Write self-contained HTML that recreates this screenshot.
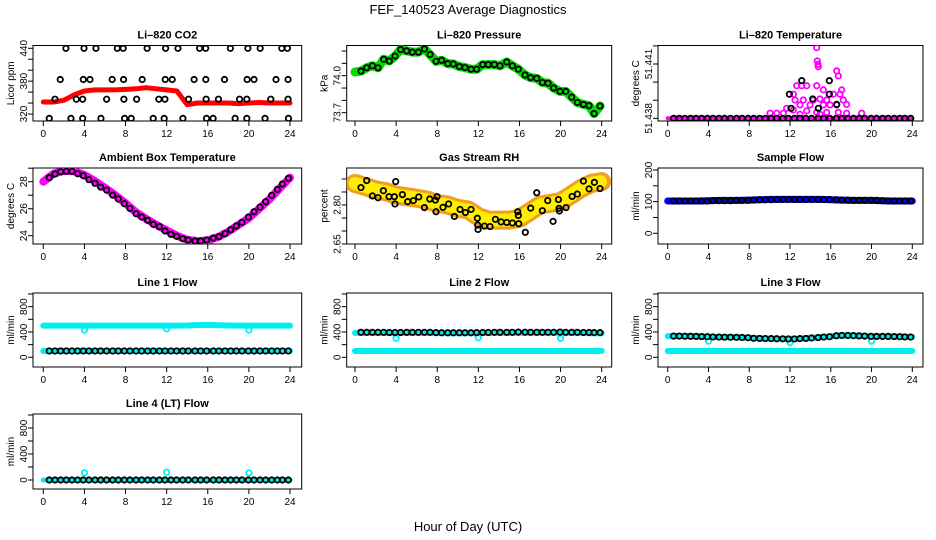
<!DOCTYPE html>
<html><head><meta charset="utf-8"><style>
html,body{margin:0;padding:0;background:#fff;}
svg{display:block;font-family:"Liberation Sans",sans-serif;}
</style></head><body>
<svg id="c" width="936" height="540" viewBox="0 0 936 540">
<text x="468" y="14" font-size="13" text-anchor="middle">FEF_140523  Average Diagnostics</text>
<text x="468" y="531" font-size="13" text-anchor="middle">Hour of Day (UTC)</text>
</svg>
<script>
// ---------- data ----------
const avgHours=[0.58,1.14,1.69,2.24,2.79,3.34,3.89,4.44,5.03,5.58,6.16,6.75,7.3,7.88,8.43,9.02,9.57,10.15,10.7,11.29,11.84,12.42,12.97,13.56,14.11,14.76,15.31,15.89,16.54,17.09,17.68,18.23,18.78,19.33,19.95,20.5,21.08,21.63,22.22,22.77,23.26,23.84];
const bandHours=[0,1,2,3,4,5,6,7,8,9,10,11,12,13,14,15,16,17,18,19,20,21,22,23,24];
const xTicks=[0,4,8,12,16,20,24];

// CO2
const co2Band=[342,342,345,355,362,364,364,364,365,366,368,366,364,362,337,340,340,340,340,339,340,341,340,340,340];
const co2AvgHours=[2.2,3.96,5.12,7.2,7.77,10.1,11.9,13.1,15.2,15.8,18.2,19.9,21.1,23.2,23.75,1.65,3.89,4.54,6.7,7.81,9.62,11.86,12.54,14.67,15.81,17.63,19.83,20.5,22.64,23.81,1.14,3.21,3.83,6.16,7.84,9.08,11.24,11.83,14.13,15.84,17.04,19.09,19.8,22.13,23.81,0.58,2.69,3.83,5.61,7.91,8.55,10.69,11.76,13.58,15.88,16.52,18.66,19.8,21.57,23.85];
const co2Avg=[440,440,440,440,440,440,440,440,440,440,440,440,440,440,440,383,383,383,383,383,383,383,383,383,383,383,383,383,383,383,347,347,347,347,347,347,347,347,347,347,347,347,347,347,347,312,312,312,312,312,312,312,312,312,312,312,312,312,312,312];
const co2Ticks=[320,340,360,380,400,420,440];
const co2Labels=[320,380,440];

// Pressure
const presAvg=[74.037,74.064,74.080,74.064,74.133,74.119,74.159,74.212,74.201,74.191,74.191,74.217,74.172,74.117,74.125,74.098,74.095,74.074,74.066,74.053,74.053,74.090,74.090,74.090,74.080,74.111,74.080,74.053,74.006,73.984,73.979,73.945,73.939,73.900,73.873,73.873,73.826,73.783,73.767,73.757,73.693,73.754];
const presTicks=[73.7,73.8,73.9,74.0,74.1,74.2];
const presLabels=["74.0","73.7"];

// Li-820 temperature
const tempBase=51.438;
const tempScatHours=[14.62,14.68,14.75,14.78,16.58,16.74,13.15,13.64,14.62,12.66,15.27,17.07,12.33,16.25,16.91,12.49,13.31,14.29,14.94,15.6,17.23,17.56,12.98,13.96,15.27,15.93,16.58,11.67,12.33,13.64,14.62,15.6,16.74,10.04,10.69,11.35,12.98,14.94,17.56,19.03];
const tempScat=[51.4419,51.44117,51.44098,51.44085,51.44062,51.44034,51.4398,51.4398,51.4398,51.4398,51.43957,51.43957,51.43933,51.43933,51.43933,51.43901,51.43901,51.43901,51.43907,51.43901,51.43901,51.43877,51.43874,51.43874,51.43874,51.43874,51.43874,51.43855,51.43846,51.43841,51.43833,51.43833,51.43833,51.43828,51.43828,51.43828,51.43822,51.43822,51.43828,51.43828];
const tempAvgOffHours=[12.1,11.94,13.15,14.23,14.78,15.86,15.86,16.58];
const tempAvgOff=[51.43855,51.43933,51.44008,51.43907,51.43855,51.44008,51.43933,51.43877];
const tempTicks=[51.438,51.439,51.44,51.441,51.442];
const tempLabels=["51.441","51.438"];

// Ambient box temperature
const ambBand=[28.0,28.6,28.8,28.78,28.5,28.05,27.55,27.0,26.4,25.75,25.25,24.8,24.4,24.0,23.7,23.6,23.65,23.9,24.3,24.8,25.3,26.0,26.7,27.5,28.3];
const ambAvg=[28.30,28.57,28.74,28.77,28.77,28.59,28.44,28.15,27.88,27.60,27.38,27.01,26.72,26.37,26.02,25.63,25.38,25.14,24.84,24.67,24.35,24.10,23.95,23.78,23.68,23.60,23.60,23.68,23.83,23.93,24.15,24.44,24.72,24.99,25.38,25.78,26.12,26.52,26.99,27.43,27.83,28.25];
const ambTicks=[24,25,26,27,28,29];
const ambLabels=[24,26,28];

// Gas stream RH
const rhBand=[2.883,2.871,2.858,2.851,2.838,2.832,2.826,2.819,2.806,2.800,2.787,2.781,2.755,2.742,2.742,2.742,2.749,2.774,2.800,2.806,2.813,2.838,2.864,2.883,2.890];
const rhAvgHours=[0.58,1.14,1.69,2.24,2.76,3.31,3.83,3.89,3.96,4.61,5.12,5.68,6.2,6.75,7.27,7.82,7.88,7.98,8.56,9.11,9.67,10.22,10.74,11.29,11.9,11.94,11.97,12.59,13.14,13.66,14.21,14.76,15.31,15.83,15.89,15.93,16.57,17.09,17.68,18.23,18.75,19.27,19.79,19.85,19.88,20.53,21.12,21.63,22.22,22.77,23.29,23.84];
const rhAvg=[2.867,2.894,2.835,2.828,2.855,2.832,2.832,2.804,2.890,2.840,2.813,2.817,2.831,2.790,2.823,2.819,2.774,2.832,2.791,2.804,2.756,2.783,2.771,2.783,2.749,2.723,2.706,2.719,2.717,2.745,2.735,2.733,2.731,2.774,2.760,2.728,2.695,2.788,2.847,2.778,2.817,2.737,2.821,2.787,2.777,2.790,2.833,2.842,2.892,2.862,2.887,2.863];
const rhTicks=[2.65,2.70,2.75,2.80,2.85,2.90];
const rhLabels=["2.65","2.80"];

// Sample flow
const sampBand=[102,102,102,102,103,104,104,104,105,106,107,107,107,107,107,107,106,105,104,104,104,103,102,102,102];
const sampAvg=[102,102,102,102,102,102,102,103,103,103,103,104,104,104,105,106,106,106,107,107,107,107,107,107,107,107,107,107,106,105,105,104,104,104,104,104,103,102,102,102,102,102];
const sampTicks=[0,50,100,150,200];
const sampLabels=[0,100,200];

// Line flows
const flowTicks=[0,200,400,600,800,1000];
const flowLabels=[0,400,800];
const dipHours=[4,12,20];
const l1Top=[500,500,500,500,500,500,500,500,500,500,500,500,500,500,502,508,510,506,502,500,500,500,500,500,500];
const l1Low=[100,100,100,100,100,100,100,100,100,100,100,100,100,100,100,100,100,100,100,100,100,100,100,100,100];
const l1Avg=[100,100,100,100,100,100,100,100,100,100,100,100,100,100,100,100,100,100,100,100,100,100,100,100,100,100,100,100,100,100,100,100,100,100,100,100,100,100,100,100,100,100];
const l1Dip=[430,450,430];
const l2Top=[385,385,385,385,380,385,385,385,385,380,380,380,382,385,385,385,388,388,388,388,388,385,385,380,380];
const l2Low=[100,100,100,100,100,100,100,100,100,100,100,100,100,100,100,100,100,100,100,100,100,100,100,100,100];
const l2Avg=[395,395,395,395,395,392,392,392,395,395,395,395,395,390,388,388,388,388,388,388,390,392,392,395,395,395,395,398,396,395,395,395,395,395,398,395,395,395,392,392,390,390];
const l2Dip=[300,310,300];
const l3Top=[335,335,332,330,320,320,318,315,310,300,295,292,290,295,305,320,330,345,345,340,330,330,328,325,322];
const l3Low=[100,100,100,100,100,100,100,100,100,100,100,100,100,100,100,100,100,100,100,100,100,100,100,100,100];
const l3Avg=[335,335,333,332,330,328,325,322,320,318,317,316,314,310,300,298,296,295,293,292,290,290,295,298,305,312,320,325,340,345,345,342,338,335,330,330,330,330,328,325,322,320];
const l3Dip=[255,230,255];
const l4Top=[0,0,0,0,0,0,0,0,0,0,0,0,0,0,0,0,0,0,0,0,0,0,0,0,0];
const l4Avg=[0,0,0,0,0,0,0,0,0,0,0,0,0,0,0,0,0,0,0,0,0,0,0,0,0,0,0,0,0,0,0,0,0,0,0,0,0,0,0,0,0,0];
const l4Dip=[110,120,110];

// ---------- drawing ----------
const svg=document.getElementById('c');
const NS='http://www.w3.org/2000/svg';
const cols=[{l:33,r:301.7,x0:43.3,x1:290},{l:346.7,r:611.7,x0:355,x1:601.7},{l:658,r:923,x0:667.7,x1:912.3}];
const rows=[{t:45.5,b:121},{t:168,b:244},{t:293,b:367},{t:414,b:489}];
function mk(tag,attrs,parent){const e=document.createElementNS(NS,tag);for(const k in attrs)e.setAttribute(k,attrs[k]);(parent||svg).appendChild(e);return e;}

function panel(name,title,ytitle,ci,ri,v1,p1,v2,p2,ticks,labels){
  const c=cols[ci],r=rows[ri];
  const g=mk('g',{});
  
  
  const xs=h=>c.x0+(c.x1-c.x0)*h/24;
  const ys=v=>p1+(v-v1)*(p2-p1)/(v2-v1);
  const t=mk('text',{x:(c.l+c.r)/2,y:r.t-7,'font-size':11,'font-weight':'bold','text-anchor':'middle'},g);
  t.textContent=title;
  
  
  const yt=mk('text',{transform:`translate(${c.l-19},${(r.t+r.b)/2}) rotate(-90)`,'font-size':10,'text-anchor':'middle'},g);
  yt.textContent=ytitle;
  
  
  const box=mk('rect',{x:c.l,y:r.t,width:c.r-c.l,height:r.b-r.t,fill:'none',stroke:'#000','stroke-width':1},g);
  
  
  xTicks.forEach(h=>{
    mk('line',{x1:xs(h),x2:xs(h),y1:r.b,y2:r.b+5,stroke:'#000'},g);
    const l=mk('text',{x:xs(h),y:r.b+16,'font-size':10,'text-anchor':'middle'},g);
    l.textContent=h;
    
    
  });
  ticks.forEach(v=>{mk('line',{x1:c.l-5,x2:c.l,y1:ys(v),y2:ys(v),stroke:'#000'},g);});
  labels.forEach(v=>{
    const l=mk('text',{transform:`translate(${c.l-6},${ys(+v)}) rotate(-90)`,'font-size':10,'text-anchor':'middle'},g);
    l.textContent=v;
    
    
  });
  const clip='clip'+name;
  const cp=mk('clipPath',{id:clip},g);mk('rect',{x:c.l,y:r.t,width:c.r-c.l,height:r.b-r.t},cp);
  const d=mk('g',{'clip-path':`url(#${clip})`},g);
  return {xs,ys,d};
}
function band(P,hours,vals,color,w,name,dash){
  const pts=hours.map((h,i)=>P.xs(h).toFixed(1)+','+P.ys(vals[i]).toFixed(1)).join(' ');
  const pl=mk('polyline',{points:pts,fill:'none',stroke:color,'stroke-width':w,'stroke-linejoin':'round','stroke-linecap':'round'},P.d);
  if(dash)pl.setAttribute('stroke-dasharray',dash);
  
  
}
function pts(P,hours,vals,color,name,r){
  hours.forEach((h,i)=>{
    const e=mk('circle',{cx:P.xs(h),cy:P.ys(vals[i]),r:r||2.7,fill:'none',stroke:color,'stroke-width':1.8},P.d);
    
    
  });
}
const blk='#000';
// CO2
let P=panel('co2','Li\u2013820 CO2','Licor ppm',0,0,440,48.3,320,114,co2Ticks,co2Labels);
band(P,bandHours,co2Band,'#ff0000',5,'co2-raw-band');
pts(P,co2AvgHours,co2Avg,blk,'co2-average-point');
// Pressure
P=panel('pressure','Li\u2013820 Pressure','kPa',1,0,74.0,75.7,73.7,112.7,presTicks,presLabels);
band(P,[0].concat(avgHours),[74.03].concat(presAvg),'#00dd00',9,'pressure-raw-band');
pts(P,avgHours,presAvg,blk,'pressure-average-point');
// Temp
P=panel('li820-temp','Li\u2013820 Temperature','degrees C',2,0,51.441,64,51.438,118.3,tempTicks,tempLabels);
band(P,bandHours,bandHours.map(()=>tempBase),'#ff00ff',4,'temp-raw-baseline');
pts(P,tempScatHours,tempScat,'#ff00ff','temp-raw-point');
pts(P,avgHours,avgHours.map(()=>tempBase),blk,'temp-average-point');
pts(P,tempAvgOffHours,tempAvgOff,blk,'temp-average-point');
// Ambient
P=panel('ambient','Ambient Box Temperature','degrees C',0,1,28,181.7,24,235.7,ambTicks,ambLabels);
band(P,bandHours,ambBand,'#ff00ff',8,'ambient-raw-band');
pts(P,avgHours,ambAvg,blk,'ambient-average-point');
// RH
P=panel('rh','Gas Stream RH','percent',1,1,2.80,205,2.65,244,rhTicks,rhLabels);
band(P,bandHours,rhBand,'#f0a020',19,'rh-raw-band');
band(P,bandHours,rhBand,'#ffee00',13,'rh-raw-speckle','1 3');
pts(P,rhAvgHours,rhAvg,blk,'rh-average-point');
// Sample
P=panel('sample-flow','Sample Flow','ml/min',2,1,200,170,0,233.3,sampTicks,sampLabels);
band(P,bandHours,sampBand,'#0000ee',7,'sample-raw-band');
pts(P,avgHours,sampAvg,blk,'sample-average-point');
// Line 1
P=panel('line1','Line 1 Flow','ml/min',0,2,0,357.3,1000,294,flowTicks,flowLabels);
band(P,bandHours,l1Top,'#00eeee',6,'line1-raw-high');
band(P,bandHours,l1Low,'#00eeee',6,'line1-raw-low');
pts(P,dipHours,l1Dip,'#00eeee','line1-raw-dip');
pts(P,avgHours,l1Avg,blk,'line1-average-point');
// Line 2
P=panel('line2','Line 2 Flow','ml/min',1,2,0,357.3,1000,294,flowTicks,flowLabels);
band(P,bandHours,l2Top,'#00eeee',6,'line2-raw-high');
band(P,bandHours,l2Low,'#00eeee',6,'line2-raw-low');
pts(P,dipHours,l2Dip,'#00eeee','line2-raw-dip');
pts(P,avgHours,l2Avg,blk,'line2-average-point');
// Line 3
P=panel('line3','Line 3 Flow','ml/min',2,2,0,357.3,1000,294,flowTicks,flowLabels);
band(P,bandHours,l3Top,'#00eeee',6,'line3-raw-high');
band(P,bandHours,l3Low,'#00eeee',6,'line3-raw-low');
pts(P,dipHours,l3Dip,'#00eeee','line3-raw-dip');
pts(P,avgHours,l3Avg,blk,'line3-average-point');
// Line 4
P=panel('line4','Line 4 (LT) Flow','ml/min',0,3,0,480,1000,415,flowTicks,flowLabels);
band(P,bandHours,l4Top,'#00eeee',5,'line4-raw');
pts(P,dipHours,l4Dip,'#00eeee','line4-raw-dip');
pts(P,avgHours,l4Avg,blk,'line4-average-point');
</script>
</body></html>
